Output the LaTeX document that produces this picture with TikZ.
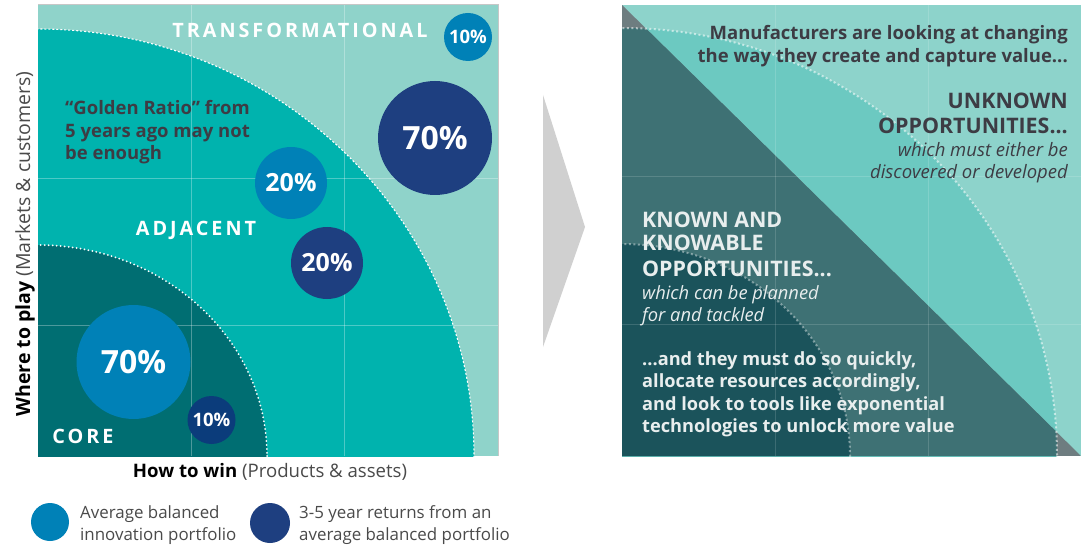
\documentclass[tikz,border=0pt]{standalone}
\usepackage{fontspec}
\setmainfont{Open Sans}
\definecolor{trans}{HTML}{8FD3CA}
\definecolor{adj}{HTML}{00B3AE}
\definecolor{corec}{HTML}{006E72}
\definecolor{lblue}{HTML}{0081B7}
\definecolor{navy}{HTML}{1E3F80}
\definecolor{navyb}{HTML}{0B3C7B}
\definecolor{rlight}{HTML}{8DD3CB}
\definecolor{rmid}{HTML}{6CC9C1}
\definecolor{rdark}{HTML}{3E7174}
\definecolor{rcore}{HTML}{1B535B}
\definecolor{rgray}{HTML}{6E7D80}
\definecolor{tdark}{HTML}{3D3C44}
\definecolor{tlight}{HTML}{E8EEEE}
\definecolor{arrowgray}{HTML}{D0D0D0}
\definecolor{legtext}{HTML}{4A4A4A}
\begin{document}
\begin{tikzpicture}[x=1pt,y=-1pt,
  bubble/.style={circle,inner sep=0pt,text=white,font=\bfseries},
  gridline/.style={white,opacity=0.3,line width=0.8pt},
  rgridline/.style={white,opacity=0.15,line width=0.8pt},
  dasharc/.style={white,line width=1.1pt,dash pattern=on 2pt off 2pt},
  dotarc/.style={white,line width=2pt,line cap=round,dash pattern=on 0pt off 4pt},
  rdotarc/.style={white,opacity=0.55,line width=2pt,dash pattern=on 2pt off 2.5pt},
  zone/.style={text=white,font=\bfseries\fontsize{19.8}{23}\selectfont\addfontfeature{LetterSpace=15},inner sep=0pt,anchor=base},
  dtext/.style={text=tdark,font=\bfseries\fontsize{18.5}{22}\selectfont,inner sep=0pt},
  btext/.style={text=tdark,font=\bfseries\fontsize{21.4}{25}\selectfont,inner sep=0pt},
  itext/.style={text=tdark,font=\itshape\fontsize{18.5}{22}\selectfont,inner sep=0pt},
  ltext/.style={text=tlight,font=\bfseries\fontsize{18.2}{22}\selectfont,inner sep=0pt,anchor=base west},
  lbtext/.style={text=tlight,font=\bfseries\fontsize{21.4}{25}\selectfont,inner sep=0pt,anchor=base west},
  litext/.style={text=tlight,font=\itshape\fontsize{18.3}{22}\selectfont,inner sep=0pt,anchor=base west},
  legend/.style={text=legtext,font=\fontsize{16.9}{22}\selectfont,inner sep=0pt,anchor=base west}
]
\useasboundingbox (0,0) rectangle (1084,548);
\fill[white] (0,0) rectangle (1084,548);

% ---------------- left panel ----------------
\fill[trans] (38,5) rectangle (498,456);
\begin{scope}
  \clip (38,5) rectangle (498,456);
  \fill[adj] (38,456) ellipse [x radius=436, y radius=427];
  \fill[corec] (38,456) ellipse [x radius=229, y radius=211];
  \draw[gridline] (191,5) -- (191,456);
  \draw[gridline] (344,5) -- (344,456);
  \draw[gridline] (38,178) -- (498,178);
  \draw[gridline] (38,325) -- (498,325);
  \draw[dasharc] (38,456) ellipse [x radius=436, y radius=427];
  \draw[dotarc] (38,456) ellipse [x radius=229, y radius=211];
\end{scope}
\draw[black!22,line width=1pt] (38,5) -- (498,5) -- (498,456);

\node[zone] (ztrans) at (300,38) {TRANSFORMATIONAL};
\node[zone] (zadj) at (196,236) {ADJACENT};
\node[zone] (zcore) at (83,443) {CORE};

\node[dtext,anchor=base west] (g1) at (65,115) {“Golden Ratio” from};
\node[dtext,anchor=base west] (g2) at (65,137.5) {5 years ago may not};
\node[dtext,anchor=base west] (g3) at (65,160) {be enough};

\node[bubble,fill=lblue,minimum size=48pt,font=\bfseries\fontsize{18.5}{20}\selectfont] (c1) at (468,37) {10\%};
\node[bubble,fill=navy,minimum size=114pt,font=\bfseries\fontsize{32}{36}\selectfont] (c2) at (435,138) {70\%};
\node[bubble,fill=lblue,minimum size=72pt,font=\bfseries\fontsize{25}{28}\selectfont] (c3) at (291,183) {20\%};
\node[bubble,fill=navy,minimum size=72pt,font=\bfseries\fontsize{25}{28}\selectfont] (c4) at (327,263) {20\%};
\node[bubble,fill=lblue,minimum size=114pt,font=\bfseries\fontsize{32}{36}\selectfont] (c5) at (133.5,362) {70\%};
\node[bubble,fill=navyb,minimum size=48pt,font=\bfseries\fontsize{18.5}{20}\selectfont] (c6) at (211.5,420) {10\%};

\node[rotate=90,inner sep=0pt,font=\fontsize{19.5}{22}\selectfont,anchor=base] (ylab) at (30,244)
  {\textbf{\color{black}Where to play} {\color{legtext}(Markets \& customers)}};
\node[inner sep=0pt,font=\fontsize{18.6}{22}\selectfont,anchor=base] (xlab) at (270,477)
  {\textbf{\color{black}How to win} {\color{legtext}(Products \& assets)}};

% legend
\node[circle,fill=lblue,minimum size=38pt,inner sep=0pt] (leg1) at (50,522) {};
\node[legend] (leg1a) at (80,518) {Average balanced};
\node[legend] (leg1b) at (80,540) {innovation portfolio};
\node[circle,fill=navy,minimum size=40pt,inner sep=0pt] (leg2) at (270,523) {};
\node[legend] (leg2a) at (299,518) {3-5 year returns from an};
\node[legend] (leg2b) at (299,540) {average balanced portfolio};

% ---------------- arrow ----------------
\fill[arrowgray] (543,95) -- (585,227) -- (543,347) -- cycle;

% ---------------- right panel ----------------
\fill[rlight] (622,5) rectangle (1081,456);
\begin{scope}
  \clip (622,5) rectangle (1081,456);
  \fill[rmid] (622,456) ellipse [x radius=435, y radius=428];
  \begin{scope}
    \clip (622,5) -- (1081,456) -- (622,456) -- cycle;
    \fill[rgray] (622,5) rectangle (1081,456);
    \fill[rdark] (622,456) ellipse [x radius=435, y radius=428];
    \fill[rcore] (622,456) ellipse [x radius=228, y radius=212];
  \end{scope}
  \draw[rgridline] (775,5) -- (775,456);
  \draw[rgridline] (928,5) -- (928,456);
  \draw[rgridline] (622,176) -- (1081,176);
  \draw[rgridline] (622,324) -- (1081,324);
  \draw[rdotarc] (622,456) ellipse [x radius=435, y radius=428];
  \draw[rdotarc,opacity=0.4] (622,456) ellipse [x radius=228, y radius=212];
\end{scope}
\draw[white,opacity=0.3,line width=1pt] (622,5) -- (1081,5);

\node[dtext,anchor=base east] (m1) at (1068,40) {Manufacturers are looking at changing};
\node[dtext,anchor=base east] (m2) at (1068,63) {the way they create and capture value...};
\node[btext,anchor=base east] (u1) at (1068,109) {UNKNOWN};
\node[btext,anchor=base east] (u2) at (1068,134) {OPPORTUNITIES...};
\node[itext,anchor=base east] (u3) at (1068,157) {which must either be};
\node[itext,anchor=base east] (u4) at (1068,179) {discovered or developed};

\node[lbtext] (k1) at (642,227) {KNOWN AND};
\node[lbtext] (k2) at (642,251) {KNOWABLE};
\node[lbtext] (k3) at (642,276) {OPPORTUNITIES...};
\node[litext] (k4) at (642,299) {which can be planned};
\node[litext] (k5) at (642,321) {for and tackled};
\node[ltext] (a1) at (642,365) {...and they must do so quickly,};
\node[ltext] (a2) at (642,387.5) {allocate resources accordingly,};
\node[ltext] (a3) at (642,410) {and look to tools like exponential};
\node[ltext] (a4) at (642,432.5) {technologies to unlock more value};
\end{tikzpicture}
\end{document}
